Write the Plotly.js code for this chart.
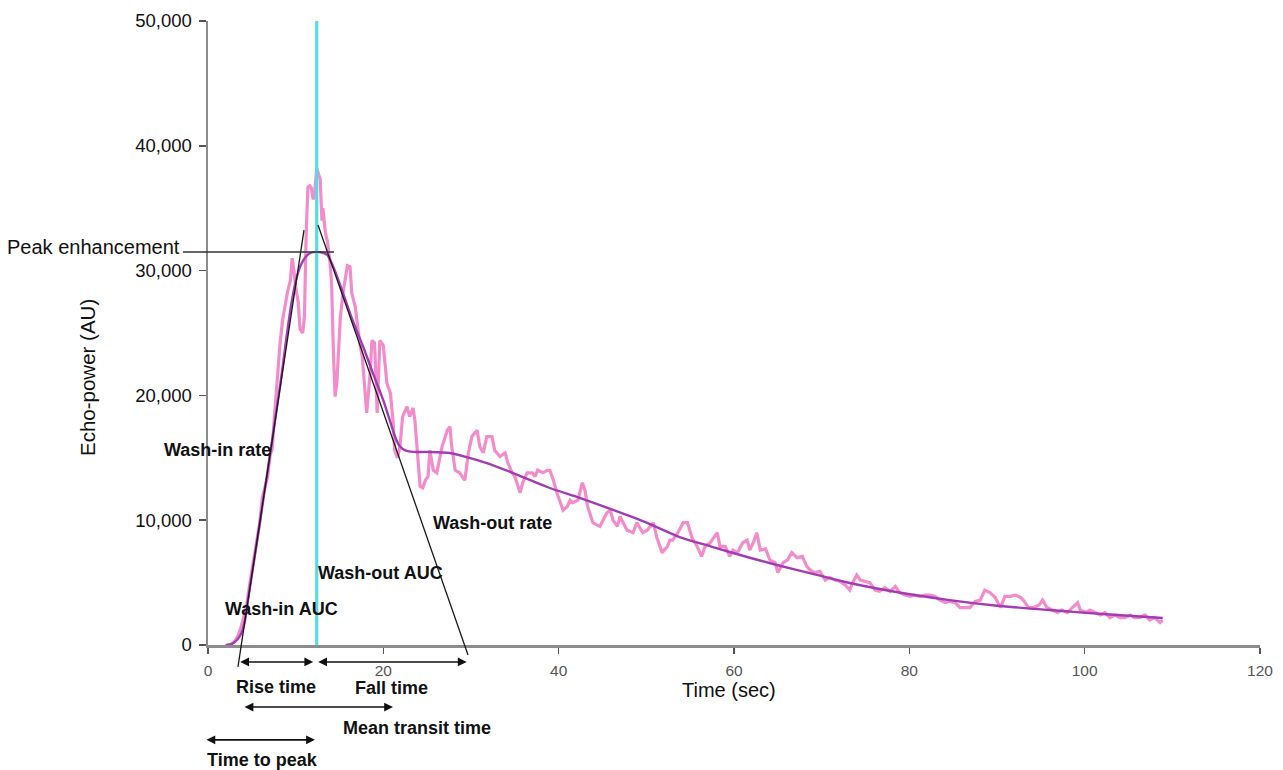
<!DOCTYPE html>
<html>
<head>
<meta charset="utf-8">
<script src="https://cdn.plot.ly/plotly-3.0.1.min.js"></script>
<style>html,body{margin:0;padding:0;background:#fff;}#chart{width:1283px;height:770px;}</style>
</head>
<body>
<div id="chart"></div>
<script>
// ---------- data ----------
const rawTime = [2.2,2.6,3,3.4,3.8,4.1,4.4,4.7,5,5.3,5.6,5.9,6.2,6.5,6.8,7.1,7.3,7.6,7.9,8.2,8.5,8.8,9.1,9.4,9.6,9.8,10,10.3,10.5,10.8,11,11.2,11.4,11.6,11.8,12,12.2,12.4,12.6,12.8,13,13.1,13.4,13.6,13.9,14.1,14.3,14.5,14.7,15.1,15.4,15.9,16.2,16.4,16.8,17,17.3,17.6,17.9,18.1,18.5,18.7,19,19.3,19.6,20,20.4,20.8,21.1,21.3,21.6,21.9,22.2,22.7,23,23.4,23.6,24,24.2,24.5,24.8,25.1,25.3,25.7,26.1,26.7,27.3,27.6,27.8,28.2,28.7,29.3,29.7,30.1,30.7,31,31.4,31.8,32.4,32.7,33.3,33.9,34.2,34.7,35,35.6,35.9,36.4,37,37.3,37.6,38.2,38.7,39,39.4,39.8,40.2,40.5,41,41.3,41.6,42.2,42.7,43,43.3,43.9,44.7,45.1,45.5,45.9,46.2,46.7,47,47.8,48.5,48.9,49.6,50.1,50.8,51.2,51.8,52.4,52.7,53,53.6,54.2,54.7,55.2,55.8,56.3,56.7,57.3,58.1,58.4,59,59.5,59.9,60.4,61,61.5,61.8,62.2,62.6,63,63.6,64.1,64.7,65,65.6,66.1,66.6,67.2,67.8,68.3,68.7,69.2,69.8,70.4,70.9,71.5,72.1,72.7,73.2,73.6,74,74.4,74.9,75.5,76.1,76.6,77.2,77.8,78.4,78.9,79.5,80.1,80.6,81.2,81.8,82.4,82.9,83.5,84.1,84.6,85.2,85.8,86.3,86.9,87.5,88.1,88.6,89.2,89.8,90.4,90.9,91.5,92.1,92.7,93,93.6,94.2,94.8,95.2,95.7,96.3,96.9,97.4,98,98.6,99.2,99.5,100.1,100.6,101.2,101.8,102.3,102.9,103.5,104,104.6,105.2,105.7,106.3,106.9,107.4,108,108.6,108.9];
const rawPower = [0,60,250,700,1500,2400,3100,4600,5900,7200,8700,9800,11800,12700,13500,15300,15600,18500,21500,24000,26000,27300,28400,29200,31000,30000,28700,27400,25300,25000,26300,33000,36700,36800,36600,35700,36500,38200,37800,37300,34000,35000,33000,32400,30800,29000,23600,19900,21000,26300,28200,30400,30300,28200,27100,25800,24200,23100,20700,18600,21800,24400,24200,18600,24400,24000,21000,20200,18000,15600,15000,15900,18300,19100,18300,19000,18000,14600,12700,12600,13200,13500,15600,14000,13800,15900,17200,17500,15900,14000,13800,13200,15400,16700,17200,15900,15400,16700,16700,15600,15100,15400,14600,13800,13500,12200,13000,13800,13800,13500,14000,13800,14000,14000,13200,12200,11400,10800,11100,11600,11400,11600,13000,12400,11100,9800,9500,10000,10600,10800,10000,9500,10300,9200,9000,9800,9000,9200,9800,8600,7400,7900,8400,8400,9000,9800,9800,8600,7900,7100,7900,8200,9000,7900,7900,7100,7600,7400,8200,8400,7600,8200,9000,7600,7700,6800,6600,5800,6600,6800,7400,7000,7100,6300,6000,5800,5900,5200,5400,5200,5100,4800,4400,5100,5600,5200,5100,5000,4400,4300,4600,4300,4700,4200,4000,3900,4000,3900,4000,4000,3900,3600,3400,3500,3400,3000,3000,3000,3500,3600,4400,4200,3800,3000,3900,3900,4000,3800,3600,3000,3000,3200,3600,3000,2800,2600,2800,2600,3000,3400,2800,2600,2800,2600,2400,2600,2200,2400,2200,2200,2400,2200,2200,2400,2000,2200,1800,2000];

const fitTime = [2.0,2.4,2.8,3.3,3.85,4.2,4.56,5,5.5,6,7,8,8.5,9,9.5,10,10.5,11.2,11.8,12.4,13,13.6,14.3,15.4,16.5,17.7,18.8,20,21.1,21.5,21.9,22.5,23.4,25.3,27.6,29.5,31.8,34.8,38.7,42.4,46.2,50.1,53.8,57.6,61.5,64.9,69,73.2,78.5,84.6,90,96,102,108.9];
const fitPower = [0,20,120,400,1000,1900,3600,5600,7900,10200,14900,19700,22200,24900,27300,29100,30300,31150,31450,31500,31450,31250,30300,28200,26000,23900,21800,19600,17200,16400,15900,15600,15470,15470,15380,15060,14580,13780,12660,11780,10820,9780,8650,7850,7050,6410,5700,4970,4250,3600,3150,2800,2480,2160];

const peakTime = 12.4;
const peakEnhancement = 31490;
const xTicks = [0,20,40,60,80,100,120];
const yTicks = [0,10000,20000,30000,40000,50000];
const xMax = 120, yMax = 50000;

// tangent lines (time, power) end points
const washInLine  = {t:[3.42,10.95], v:[-1760,33250]};
const washOutLine = {t:[12.55,29.66], v:[33650,-800]};

// time interval arrows below the axis
const intervalNames = ['Rise time','Fall time','Mean transit time','Time to peak'];
const intervalStart = [3.5, 12.4, 4.0, -0.35];
const intervalEnd   = [12.0, 29.5, 21.1, 12.2];

// ---------- styling ----------
const FONT = 'Liberation Sans, Arial, Helvetica, sans-serif';
const ink = '#111111';

const traces = [
  {x: rawTime, y: rawPower, type:'scatter', mode:'lines',
   line:{color:'#f28cca', width:3.2}, hoverinfo:'skip'},
  {x: fitTime, y: fitPower, type:'scatter', mode:'lines',
   line:{color:'#a23bb4', width:2.4, shape:'spline', smoothing:0.8}, hoverinfo:'skip'}
];

const shapes = [
  {type:'line', layer:'above', xref:'x', yref:'y', x0:peakTime, x1:peakTime, y0:0, y1:yMax,
   line:{color:'#55dde3', width:3.2}},
  {type:'line', layer:'above', xref:'x', yref:'paper',
   x0:washInLine.t[0], x1:washInLine.t[1], y0:washInLine.v[0]/yMax, y1:washInLine.v[1]/yMax,
   line:{color:'#1a1a1a', width:1.3}},
  {type:'line', layer:'above', xref:'x', yref:'paper',
   x0:washOutLine.t[0], x1:washOutLine.t[1], y0:washOutLine.v[0]/yMax, y1:washOutLine.v[1]/yMax,
   line:{color:'#1a1a1a', width:1.3}},
  {type:'line', layer:'above', xref:'paper', yref:'y',
   x0:-0.0238, x1:0.1198, y0:peakEnhancement, y1:peakEnhancement,
   line:{color:'#333333', width:1.5}}
];

const arrowY = [-0.0272, -0.0272, -0.0994, -0.152];
const annotations = [];
for (let i=0;i<intervalNames.length;i++){
  annotations.push({
    xref:'x', yref:'paper', axref:'x', ayref:'pixel',
    x: intervalEnd[i], y: arrowY[i], ax: intervalStart[i], ay: 0,
    text:'', showarrow:true, arrowside:'end+start',
    arrowhead:2, startarrowhead:2, arrowsize:1.1, startarrowsize:1.1,
    arrowwidth:1.6, arrowcolor:ink, standoff:0, startstandoff:0,
    font:{size:1}
  });
}

function boldLabel(text, xref, x, yref, y){
  return {text:'<b>'+text+'</b>', xref:xref, yref:yref, x:x, y:y, showarrow:false,
          xanchor:'center', yanchor:'middle', font:{family:FONT, size:18, color:ink}};
}
annotations.push(boldLabel('Wash-in rate','x',1.08,'y',15625));
annotations.push(boldLabel('Wash-out rate','x',32.4,'y',9775));
annotations.push(boldLabel('Wash-out AUC','x',19.7,'y',5770));
annotations.push(boldLabel('Wash-in AUC','x',8.44,'y',2885));
annotations.push(boldLabel(intervalNames[0],'x',7.76,'paper',-0.0673));
annotations.push(boldLabel(intervalNames[1],'x',20.9,'paper',-0.0689));
annotations.push(boldLabel(intervalNames[2],'x',23.8,'paper',-0.133));
annotations.push(boldLabel(intervalNames[3],'x',6.16,'paper',-0.184));

annotations.push({text:'Peak enhancement', xref:'paper', yref:'y', x:-0.0245, y:31890,
  showarrow:false, xanchor:'right', yanchor:'middle', font:{family:FONT, size:20, color:ink}});
annotations.push({text:'Echo-power (AU)', xref:'paper', yref:'paper', x:-0.114, y:0.428,
  textangle:-90, showarrow:false, xanchor:'center', yanchor:'middle', font:{family:FONT, size:20.5, color:ink}});
annotations.push({text:'Time (sec)', xref:'x', yref:'paper', x:59.4, y:-0.0721,
  showarrow:false, xanchor:'center', yanchor:'middle', font:{family:FONT, size:20, color:ink}});

const layout = {
  width:1283, height:770,
  margin:{l:208, r:23, t:21, b:125, pad:0},
  paper_bgcolor:'#ffffff', plot_bgcolor:'#ffffff',
  showlegend:false,
  font:{family:FONT, color:ink},
  xaxis:{range:[0,xMax], tickvals:xTicks, ticktext:xTicks.map(String),
    showline:true, linecolor:'#8c8c8c', linewidth:2.5, ticks:'outside', ticklen:6, tickwidth:1.5,
    tickcolor:'#555555', tickfont:{family:FONT, size:15.5, color:'#555555'}, ticklabelstandoff:4,
    showgrid:false, zeroline:false, fixedrange:true},
  yaxis:{range:[0,yMax], tickvals:yTicks, tickformat:',d',
    showline:true, linecolor:'#8c8c8c', linewidth:2.5, ticks:'outside', ticklen:7, tickwidth:1.5,
    tickcolor:'#555555', tickfont:{family:FONT, size:18.5, color:ink}, ticklabelstandoff:3,
    showgrid:false, zeroline:false, fixedrange:true},
  shapes:shapes,
  annotations:annotations
};

Plotly.newPlot('chart', traces, layout, {staticPlot:true, displayModeBar:false});
</script>
</body>
</html>
